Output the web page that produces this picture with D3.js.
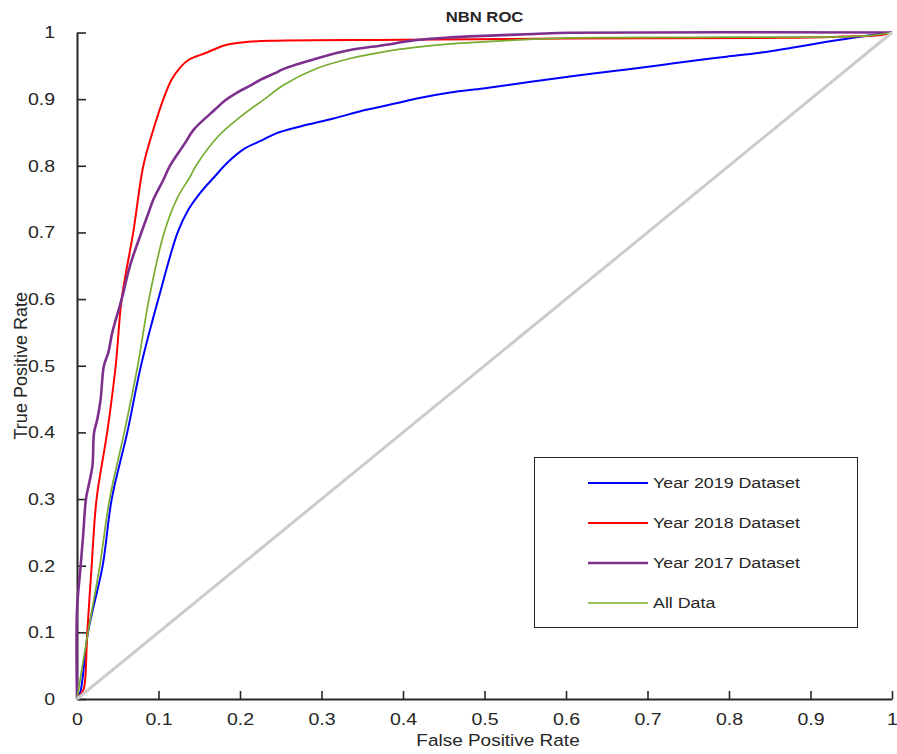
<!DOCTYPE html>
<html>
<head>
<meta charset="utf-8">
<script src="https://cdn.jsdelivr.net/npm/d3@7"></script>
<style>
  html, body { margin: 0; padding: 0; background: #fff; }
  svg { display: block; }
  text { font-family: "Liberation Sans", Arial, sans-serif; fill: #262626; }
</style>
</head>
<body>
<svg id="chart" width="897" height="754"></svg>
<script>
// ROC curves: false positive rate (x) vs true positive rate (y)
const fpr2019 = [0, 0.004, 0.0135, 0.0315, 0.0426, 0.0617, 0.0785, 0.0998, 0.1235, 0.1366, 0.151, 0.169, 0.1857, 0.206, 0.2266, 0.243, 0.274, 0.3145, 0.355, 0.396, 0.417, 0.458, 0.4985, 0.54, 0.58, 0.6335, 0.6745, 0.7153, 0.756, 0.797, 0.838, 0.879, 0.92, 0.9607, 1];
const tpr2019 = [0, 0.01, 0.1, 0.2, 0.3, 0.4, 0.5, 0.6, 0.7, 0.734, 0.759, 0.784, 0.806, 0.826, 0.838, 0.848, 0.859, 0.871, 0.884, 0.895, 0.901, 0.910, 0.916, 0.923, 0.930, 0.9385, 0.9445, 0.951, 0.9576, 0.9637, 0.9697, 0.9775, 0.986, 0.9937, 1];

const fpr2018 = [0, 0.005, 0.0085, 0.0126, 0.018, 0.024, 0.037, 0.0475, 0.0548, 0.069, 0.0814, 0.0936, 0.106, 0.116, 0.127, 0.1366, 0.146, 0.157, 0.1816, 0.21, 0.243, 0.4, 0.6, 0.87, 0.94, 0.985, 1];
const tpr2018 = [0, 0.008, 0.016, 0.1, 0.2, 0.3, 0.4, 0.5, 0.6, 0.7, 0.8, 0.854, 0.9, 0.929, 0.948, 0.9587, 0.964, 0.9688, 0.981, 0.986, 0.9877, 0.989, 0.991, 0.992, 0.994, 0.996, 1];

const fpr2017 = [0, 0, 0.0045, 0.0078, 0.011, 0.016, 0.019, 0.021, 0.025, 0.029, 0.033, 0.0385, 0.0433, 0.0548, 0.065, 0.079, 0.087, 0.0936, 0.106, 0.114, 0.1325, 0.143, 0.169, 0.1816, 0.198, 0.212, 0.225, 0.243, 0.253, 0.294, 0.335, 0.376, 0.417, 0.458, 0.4985, 0.56, 0.605, 1];
const tpr2017 = [0, 0.133, 0.2, 0.25, 0.3, 0.33, 0.35, 0.4, 0.42, 0.45, 0.5, 0.52, 0.55, 0.6, 0.65, 0.7, 0.727, 0.749, 0.779, 0.8, 0.834, 0.854, 0.884, 0.898, 0.911, 0.92, 0.929, 0.939, 0.945, 0.961, 0.9737, 0.981, 0.9887, 0.9927, 0.995, 0.9977, 0.9997, 1];

const fprAll = [0, 0.0135, 0.028, 0.040, 0.058, 0.0745, 0.0883, 0.107, 0.124, 0.139, 0.146, 0.173, 0.202, 0.23, 0.253, 0.294, 0.335, 0.376, 0.417, 0.458, 0.4985, 0.56, 0.605, 0.8, 0.97, 1];
const tprAll = [0, 0.1, 0.2, 0.3, 0.4, 0.5, 0.6, 0.7, 0.754, 0.784, 0.8, 0.844, 0.875, 0.9, 0.921, 0.946, 0.961, 0.971, 0.978, 0.983, 0.986, 0.99, 0.992, 0.993, 0.995, 1];

const seriesNames = ["Year 2019 Dataset", "Year 2018 Dataset", "Year 2017 Dataset", "All Data"];
const ticks = [0, 0.1, 0.2, 0.3, 0.4, 0.5, 0.6, 0.7, 0.8, 0.9, 1];
const tickLabels = ["0", "0.1", "0.2", "0.3", "0.4", "0.5", "0.6", "0.7", "0.8", "0.9", "1"];

const series = [
  { name: seriesNames[0], x: fpr2019, y: tpr2019, color: "#0000ff", width: 2 },
  { name: seriesNames[1], x: fpr2018, y: tpr2018, color: "#ff0000", width: 2 },
  { name: seriesNames[2], x: fpr2017, y: tpr2017, color: "#7e2f8e", width: 2.6 },
  { name: seriesNames[3], x: fprAll,  y: tprAll,  color: "#77ac30", width: 1.7 }
];

const svg = d3.select("#chart");
const plotL = 77, plotR = 892, plotT = 32.5, plotB = 699;
const stretch = 1.15;

const x = d3.scaleLinear().domain([0, 1]).range([plotL, plotR]);
const y = d3.scaleLinear().domain([0, 1]).range([plotB, plotT]);

// axes with inward ticks
const xAxis = d3.axisBottom(x).tickValues(ticks).tickFormat((d, i) => tickLabels[i]).tickSizeInner(-8).tickSizeOuter(0).tickPadding(14);
const yAxis = d3.axisLeft(y).tickValues(ticks).tickFormat((d, i) => tickLabels[i]).tickSizeInner(-9).tickSizeOuter(0).tickPadding(19);

const gx = svg.append("g").attr("transform", `translate(0,${plotB})`).call(xAxis);
const gy = svg.append("g").attr("transform", `translate(${plotL},0)`).call(yAxis);

[gx, gy].forEach(g => {
  g.select(".domain").attr("stroke", "#262626").attr("stroke-width", 2);
  g.selectAll(".tick line").attr("stroke", "#262626").attr("stroke-width", 1.6);
  g.selectAll(".tick text")
    .style("font-family", '"Liberation Sans", Arial, sans-serif')
    .attr("font-size", 17).attr("fill", "#262626");
});
gx.selectAll(".tick text").attr("dy", "0.71em");
gy.selectAll(".tick text").attr("transform", `scale(${stretch},1)`);
gx.selectAll(".tick text").attr("transform", `scale(${stretch},1)`);

// ROC curves
const line = d3.line().x(d => x(d[0])).y(d => y(d[1])).curve(d3.curveCatmullRom.alpha(0.5));
series.forEach(s => {
  const pts = s.x.map((v, i) => [v, s.y[i]]);
  svg.append("path")
    .datum(pts)
    .attr("d", line)
    .attr("fill", "none")
    .attr("stroke", s.color)
    .attr("stroke-width", s.width)
    .attr("stroke-linejoin", "round");
});

// chance diagonal
svg.append("path")
  .datum([[0, 0], [1, 1]])
  .attr("d", d3.line().x(d => x(d[0])).y(d => y(d[1])))
  .attr("fill", "none")
  .attr("stroke", "#cccccc")
  .attr("stroke-width", 3);

// title and axis labels
function stretchedText(tx, ty, str, size, weight, rotate) {
  const g = svg.append("g").attr("transform", `translate(${tx},${ty})` + (rotate ? ` rotate(${rotate})` : ""));
  g.append("text")
    .attr("transform", rotate ? "" : `scale(${stretch},1)`)
    .attr("text-anchor", "middle")
    .attr("font-size", size)
    .attr("font-weight", weight)
    .text(str);
  return g;
}
stretchedText((plotL + plotR) / 2, 22, "NBN ROC", 14.5, "bold");
stretchedText(498, 746, "False Positive Rate", 16.5, "normal");
stretchedText(27, (plotT + plotB) / 2, "True Positive Rate", 18, "normal", -90);

// legend
const lg = svg.append("g");
lg.append("rect")
  .attr("x", 534.5).attr("y", 457.5).attr("width", 323).attr("height", 170)
  .attr("fill", "#fff").attr("stroke", "#262626").attr("stroke-width", 1);
const rowY = d3.scalePoint().domain(seriesNames).range([483, 603]);
series.forEach(s => {
  const ry = rowY(s.name);
  lg.append("line")
    .attr("x1", 588).attr("x2", 648).attr("y1", ry).attr("y2", ry)
    .attr("stroke", s.color).attr("stroke-width", s.width);
  lg.append("g").attr("transform", `translate(653,${ry})`)
    .append("text")
    .attr("transform", `scale(${stretch},1)`)
    .attr("dy", "0.35em")
    .attr("font-size", 15.5)
    .text(s.name);
});
</script>
</body>
</html>
